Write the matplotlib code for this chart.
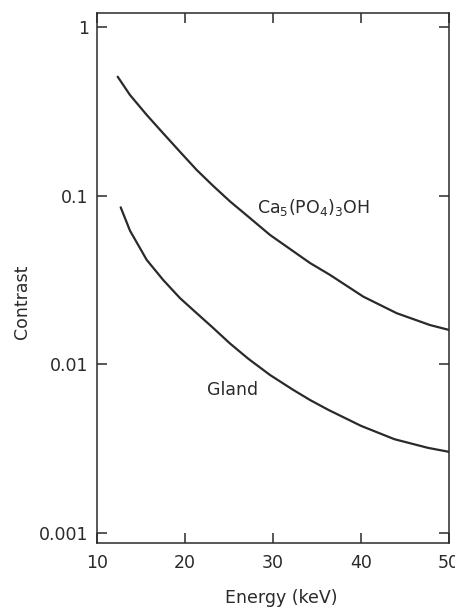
import matplotlib
matplotlib.use("Agg")
import matplotlib.pyplot as plt
from matplotlib.ticker import FixedLocator, NullLocator

# Data
energy_ca = [12.35, 13.75, 15.65, 17.53, 19.43, 21.33, 23.22, 25.11, 27.19, 29.66,
             34.2, 36.48, 40.26, 44.06, 47.84, 50.0]
contrast_ca = [0.507, 0.395, 0.301, 0.234, 0.182, 0.142, 0.114, 0.0925, 0.0751, 0.0585,
               0.0399, 0.0339, 0.0252, 0.0201, 0.0171, 0.0160]

energy_gland = [12.69, 13.75, 15.65, 17.53, 19.43, 21.33, 23.22, 25.11, 27.19, 29.66,
                32.31, 34.2, 36.3, 40.0, 43.8, 47.6, 50.0]
contrast_gland = [0.0853, 0.0620, 0.0416, 0.0316, 0.0247, 0.0201, 0.0164, 0.0133, 0.0108, 0.00865,
                  0.00705, 0.00615, 0.00537, 0.00432, 0.00360, 0.00320, 0.00303]

x_ticks = [10, 20, 30, 40, 50]
x_ticklabels = ["10", "20", "30", "40", "50"]
y_ticks = [0.001, 0.01, 0.1, 1]
y_ticklabels = ["0.001", "0.01", "0.1", "1"]

label_ca = "Ca$_5$(PO$_4$)$_3$OH"
label_gland = "Gland"

ink = "#2a2a2a"
plt.rcParams["font.family"] = ["DejaVu Sans"]
plt.rcParams["mathtext.default"] = "regular"
fs = 12.5

fig = plt.figure(figsize=(4.55, 6.10), dpi=100)
ax = fig.add_axes([97/455, 1-543/610, (449-97)/455, (543-13)/610])

ax.plot(energy_ca, contrast_ca, color=ink, lw=1.6, solid_capstyle="round", solid_joinstyle="round")
ax.plot(energy_gland, contrast_gland, color=ink, lw=1.6, solid_capstyle="round", solid_joinstyle="round")

ax.set_yscale("log")
ax.set_xlim(10, 50)
ax.set_ylim(0.000873, 1.21)

ax.xaxis.set_major_locator(FixedLocator(x_ticks))
ax.set_xticklabels(x_ticklabels)
ax.yaxis.set_major_locator(FixedLocator(y_ticks))
ax.yaxis.set_minor_locator(NullLocator())
ax.set_yticklabels(y_ticklabels)

ax.tick_params(axis="both", which="major", direction="in", length=7, width=1.1,
               color=ink, labelcolor=ink, labelsize=fs, top=True, right=True)
ax.tick_params(axis="x", pad=8)
ax.tick_params(axis="y", pad=6)
for s in ax.spines.values():
    s.set_color(ink)
    s.set_linewidth(1.1)

ax.text(28.2, 0.0794, label_ca, color=ink, fontsize=fs, ha="left", va="baseline")
ax.text(22.47, 0.00659, label_gland, color=ink, fontsize=fs, ha="left", va="baseline")

fig.text(281/455, 1-598/610, "Energy (keV)", color=ink, fontsize=fs, ha="center", va="center")
fig.text(22/455, 1-302/610, "Contrast", color=ink, fontsize=fs, ha="center", va="center", rotation=90)

fig.savefig("out.png", dpi=100, facecolor="white")
